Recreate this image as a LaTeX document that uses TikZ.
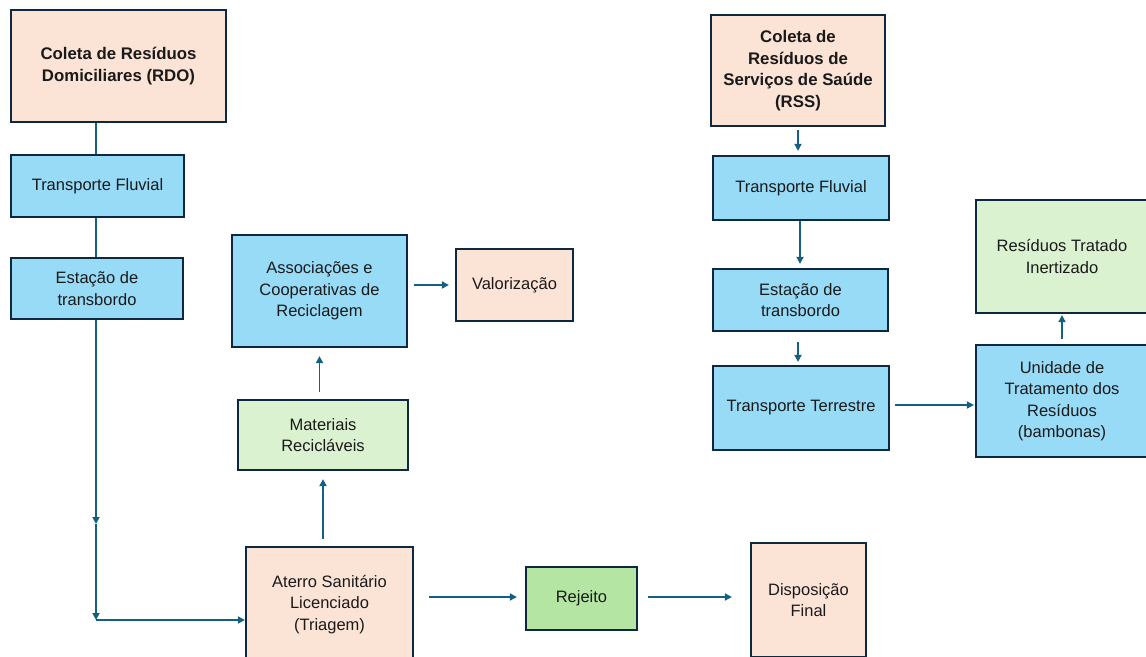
\documentclass[tikz,border=0pt]{standalone}
\usepackage{fontspec}
\setmainfont{Liberation Sans}
\usetikzlibrary{arrows.meta}
\definecolor{peach}{HTML}{FBE3D6}
\definecolor{skyb}{HTML}{97DBF7}
\definecolor{mint}{HTML}{DAF2D0}
\definecolor{leaf}{HTML}{B4E5A2}
\definecolor{edge}{HTML}{0E2841}
\definecolor{flow}{HTML}{156082}
\definecolor{ink}{HTML}{1A1A1A}

\begin{document}
\begin{tikzpicture}[x=1bp,y=-1bp,
  box/.style={draw=edge, line width=2.2bp, align=center, inner sep=0pt, text=ink,
    font=\fontsize{16.5bp}{21.5bp}\selectfont},
  warm/.style={box, fill=peach},
  cool/.style={box, fill=skyb},
  pale/.style={box, fill=mint},
  reject/.style={box, fill=leaf},
  heavy/.style={font=\fontsize{16.8bp}{21.5bp}\selectfont\bfseries},
  sz/.style 2 args={minimum width=#1bp, minimum height=#2bp},
  flowline/.style={draw=flow, line width=1.9bp},
  arr/.style={flowline, -{Triangle[length=7bp,width=7bp]}}]

\useasboundingbox (0,0) rectangle (1146,657);

% household waste chain
\node[warm, heavy, sz={215}{112}] (rdo) at (118.5,66) {Coleta de Resíduos\\Domiciliares (RDO)};
\node[cool, sz={173}{62}] (tfl) at (97.5,186) {Transporte Fluvial};
\node[cool, sz={172}{61}] (estl) at (97,288.5) {Estação de\\transbordo};
\node[cool, sz={175}{112}] (assoc) at (319.5,291) {Associações e\\Cooperativas de\\Reciclagem};
\node[warm, sz={117}{72}] (valor) at (514.5,285) {Valorização};
\node[pale, sz={170}{70}] (mat) at (323,435) {Materiais\\Recicláveis};
\node[warm, sz={167}{115}] (aterro) at (329.5,604.5) {Aterro Sanitário\\Licenciado\\(Triagem)};
\node[reject, sz={111}{63}] (rej) at (581.5,598.5) {Rejeito};
\node[warm, sz={115}{114}] (disp) at (808.5,600) {Disposição\\Final};

% health-service waste chain
\node[warm, heavy, sz={174}{111}] (rss) at (798,70.5) {Coleta de\\Resíduos de\\Serviços de Saúde\\(RSS)};
\node[cool, sz={176}{64}] (tfr) at (801,188) {Transporte Fluvial};
\node[cool, sz={175}{62}] (estr) at (800.5,300) {Estação de\\transbordo};
\node[cool, sz={176}{84}] (tt) at (801,408) {Transporte Terrestre};
\node[cool, sz={172}{112}] (uni) at (1062,401) {Unidade de\\Tratamento dos\\Resíduos\\(bambonas)};
\node[pale, sz={172}{113}] (rt) at (1062,256.5) {Resíduos Tratado\\Inertizado};

% left connectors
\coordinate (drop) at (96,524);
\coordinate (corner) at (96,620);
\draw[flowline] (rdo.south -| tfl.north) ++(-1.5,0) -- ([xshift=-1.5bp]tfl.north);
\draw[flowline] ([xshift=-1.5bp]tfl.south) -- ([xshift=-1.5bp]tfl.south |- estl.north);
\draw[arr] (estl.south -| drop) -- (drop);
\draw[arr] (drop) -- (corner);
\draw[arr] (corner) -- (corner -| aterro.west);
\draw[arr, shorten <=7bp, shorten >=8bp] (aterro.north -| mat.south) -- (mat.south);
\draw[arr, shorten <=7bp, shorten >=8bp] (mat.north -| assoc.south) -- (assoc.south);
\draw[arr, shorten <=6bp, shorten >=6bp] (assoc.east |- valor.west) -- (valor.west);
\draw[arr, shorten <=15bp, shorten >=8bp] (aterro.east |- rej.west) ++(0,-1.5) -- ([yshift=1.5bp]rej.west);
\draw[arr, shorten <=10bp, shorten >=18bp] ([yshift=1.5bp]rej.east) -- ([yshift=1.5bp]rej.east -| disp.west);

% right connectors
\draw[arr, shorten <=3bp, shorten >=4bp] (rss.south) -- (rss.south |- tfr.north);
\draw[arr, shorten <=0bp, shorten >=4bp] ([xshift=-1bp]tfr.south) -- ([xshift=-1bp]tfr.south |- estr.north);
\draw[arr, shorten <=10bp, shorten >=3bp] ([xshift=-2.5bp]estr.south) -- ([xshift=-2.5bp]estr.south |- tt.north);
\draw[arr, shorten <=5bp, shorten >=1bp] ([yshift=3bp]tt.east) -- ([yshift=3bp]tt.east -| uni.west);
\draw[arr, shorten <=5bp, shorten >=1bp] (uni.north) -- (rt.south);
\end{tikzpicture}
\end{document}
